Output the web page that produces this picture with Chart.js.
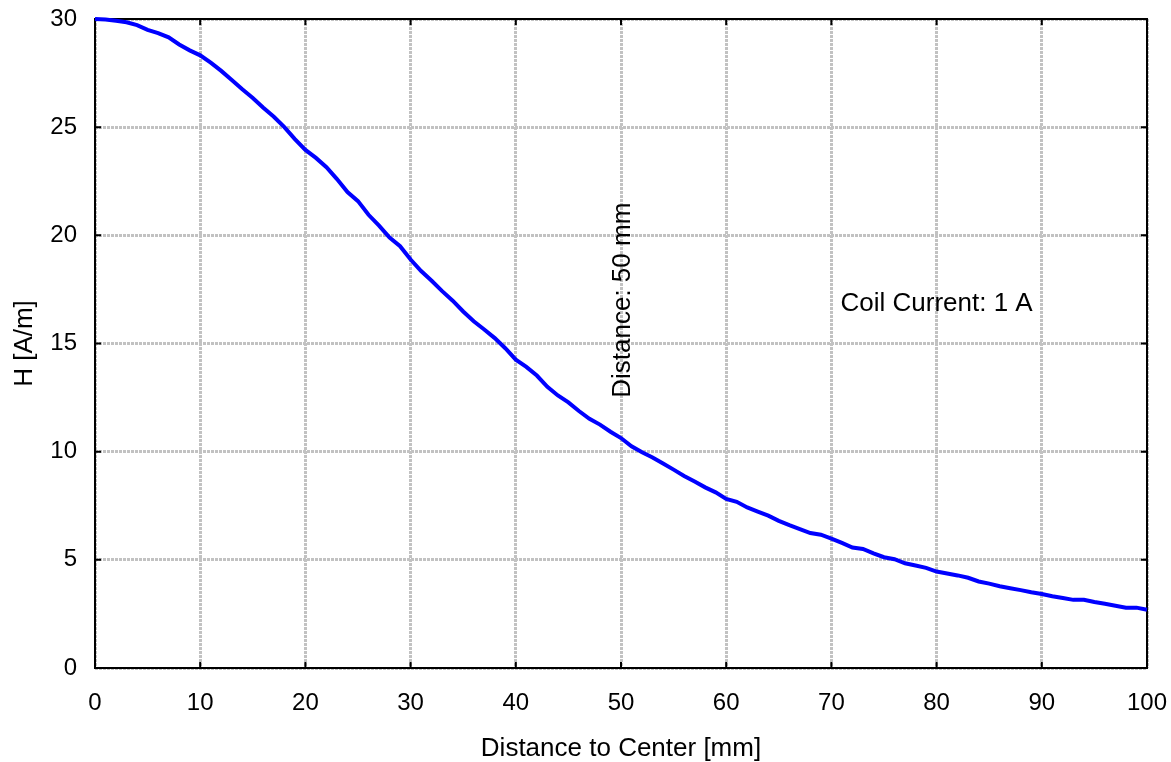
<!DOCTYPE html>
<html>
<head>
<meta charset="utf-8">
<script src="https://cdn.jsdelivr.net/npm/chart.js@4/dist/chart.umd.min.js"></script>
<style>
  html, body { margin: 0; padding: 0; background: #ffffff; }
  #wrap { width: 1171px; height: 762px; position: relative; }
</style>
</head>
<body>
<div id="wrap"><canvas id="c" width="1171" height="762"></canvas></div>
<script>
// ---- Data ----
const distanceMm = [0,1,2,3,4,5,6,7,8,9,10,11,12,13,14,15,16,17,18,19,20,21,22,23,24,25,26,27,28,29,30,31,32,33,34,35,36,37,38,39,40,41,42,43,44,45,46,47,48,49,50,51,52,53,54,55,56,57,58,59,60,61,62,63,64,65,66,67,68,69,70,71,72,73,74,75,76,77,78,79,80,81,82,83,84,85,86,87,88,89,90,91,92,93,94,95,96,97,98,99,100];
const fieldH = [30.0,29.98,29.92,29.85,29.72,29.5,29.35,29.15,28.82,28.55,28.32,27.98,27.6,27.18,26.75,26.35,25.9,25.48,25.0,24.45,23.95,23.58,23.15,22.6,22.0,21.58,20.95,20.45,19.9,19.5,18.88,18.35,17.9,17.42,16.98,16.48,16.03,15.65,15.25,14.78,14.25,13.92,13.52,13.0,12.6,12.28,11.88,11.52,11.25,10.92,10.63,10.25,9.97,9.73,9.45,9.17,8.88,8.62,8.35,8.12,7.82,7.68,7.42,7.23,7.04,6.8,6.6,6.42,6.24,6.16,5.98,5.78,5.57,5.5,5.3,5.12,5.03,4.84,4.74,4.63,4.46,4.37,4.28,4.17,4.0,3.9,3.78,3.69,3.6,3.5,3.42,3.32,3.24,3.15,3.15,3.05,2.97,2.88,2.79,2.79,2.69];
const xTicks = [0,10,20,30,40,50,60,70,80,90,100];
const yTicks = [0,5,10,15,20,25,30];
const xTitle = 'Distance to Center [mm]';
const yTitle = 'H [A/m]';
const annotations = [
  { text: 'Distance: 50 mm', x: 50.2, y: 17, rotate: true },
  { text: 'Coil Current: 1 A', x: 80, y: 16.85, rotate: false }
];

const FONT = "'Liberation Sans', Arial, Helvetica, sans-serif";

const framePlugin = {
  id: 'framePlugin',
  beforeDatasetsDraw(chart) {
    const { ctx, chartArea: a, scales } = chart;
    ctx.save();
    ctx.strokeStyle = '#000';
    ctx.lineWidth = 2;
    ctx.strokeRect(a.left, a.top, a.right - a.left, a.bottom - a.top);
    const len = 6;
    ctx.beginPath();
    xTicks.forEach(v => {
      const px = scales.x.getPixelForValue(v);
      ctx.moveTo(px, a.bottom); ctx.lineTo(px, a.bottom - len);
      ctx.moveTo(px, a.top); ctx.lineTo(px, a.top + len);
    });
    yTicks.forEach(v => {
      const py = scales.y.getPixelForValue(v);
      ctx.moveTo(a.left, py); ctx.lineTo(a.left + len, py);
      ctx.moveTo(a.right, py); ctx.lineTo(a.right - len, py);
    });
    ctx.stroke();
    // annotations
    ctx.fillStyle = '#000';
    ctx.font = '26px ' + FONT;
    ctx.textAlign = 'center';
    ctx.textBaseline = 'middle';
    annotations.forEach(an => {
      const px = scales.x.getPixelForValue(an.x);
      const py = scales.y.getPixelForValue(an.y);
      ctx.save();
      ctx.translate(px, py);
      if (an.rotate) ctx.rotate(-Math.PI / 2);
      ctx.fillText(an.text, 0, 0);
      ctx.restore();
    });
    ctx.restore();
  }
};

new Chart(document.getElementById('c'), {
  type: 'line',
  data: {
    datasets: [{
      data: distanceMm.map((d, i) => ({ x: d, y: fieldH[i] })),
      borderColor: '#0000ff',
      borderWidth: 4,
      pointRadius: 0,
      tension: 0,
      fill: false,
      clip: 6
    }]
  },
  options: {
    responsive: false,
    animation: false,
    devicePixelRatio: 1,
    layout: { padding: { left: 0, top: 19, right: 24, bottom: 0 } },
    plugins: { legend: { display: false }, tooltip: { enabled: false } },
    scales: {
      x: {
        type: 'linear',
        min: 0, max: 100,
        afterBuildTicks(scale) { scale.ticks = xTicks.map(v => ({ value: v })); },
        afterFit(scale) { scale.height = 94; scale.paddingLeft = 0; scale.paddingRight = 0; },
        ticks: { color: '#000', font: { family: FONT, size: 24 }, padding: 21, maxRotation: 0, autoSkip: false },
        grid: { color: '#c2c2c2', lineWidth: 3, drawTicks: false },
        border: { display: false, dash: [3, 1] },
        title: { display: true, text: xTitle, color: '#000', font: { family: FONT, size: 26, lineHeight: 1 }, padding: { top: 0, bottom: 0 } }
      },
      y: {
        type: 'linear',
        min: 0, max: 30,
        afterBuildTicks(scale) { scale.ticks = yTicks.map(v => ({ value: v })); },
        afterFit(scale) { scale.width = 95; scale.paddingTop = 0; scale.paddingBottom = 0; },
        ticks: { color: '#000', font: { family: FONT, size: 24 }, padding: 18, autoSkip: false },
        grid: { color: '#c2c2c2', lineWidth: 3, drawTicks: false },
        border: { display: false, dash: [3, 1] },
        title: { display: true, text: yTitle, color: '#000', font: { family: FONT, size: 26, lineHeight: 1 }, padding: { top: 12, bottom: 0 } }
      }
    }
  },
  plugins: [framePlugin]
});
</script>
</body>
</html>
